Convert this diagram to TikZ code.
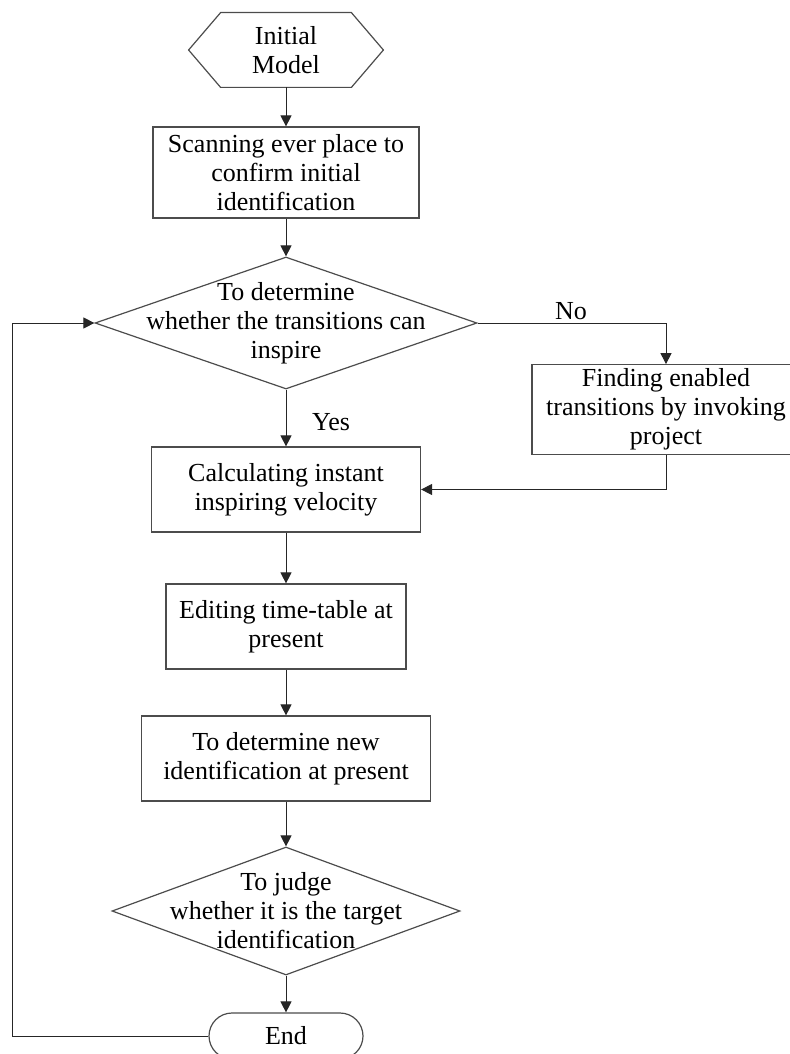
\documentclass[tikz,border=0pt]{standalone}
\usepackage{fontspec}
\setmainfont{Liberation Serif}
\usetikzlibrary{arrows.meta,positioning,shapes.geometric,calc}

\begin{document}
\begin{tikzpicture}[x=0.5pt, y=-0.5pt,
  box/.style={draw=black!70, line width=0.6pt, minimum height=42.5pt, align=center,
              font=\fontsize{13}{14.5}\selectfont, inner sep=2pt},
  dec/.style={draw=black!70, line width=0.6pt, diamond, inner sep=0pt, aspect=2.9},
  dtxt/.style={align=center, font=\fontsize{13}{14.5}\selectfont, inner sep=0pt},
  term/.style={draw=black!70, line width=0.6pt, rounded corners=11.5pt, minimum width=77pt,
               minimum height=23pt, font=\fontsize{13}{14.5}\selectfont},
  arr/.style={-{Triangle[length=5.5pt, width=5.5pt]}, line width=0.5pt, black!85},
  lbl/.style={font=\fontsize{13}{14.5}\selectfont, inner sep=0pt},
]
\useasboundingbox (0,0) rectangle (790,1054);

% --- start ---
\node[dtxt, minimum width=97pt, minimum height=37pt] (init) at (286,50) {Initial\\Model};
\draw[draw=black!70, line width=0.6pt] (init.west) -- ([xshift=16pt]init.north west)
  -- ([xshift=-16pt]init.north east) -- (init.east)
  -- ([xshift=-16pt]init.south east) -- ([xshift=16pt]init.south west) -- cycle;

% --- main column ---
\node[box, minimum width=133pt, minimum height=45.5pt] (scan) at (286,172.5)
  {Scanning ever place to\\confirm initial\\identification};
\node[dec, minimum width=191pt, minimum height=66pt] (fire) at (286,323) {};
\node[dtxt] (firetxt) at (fire) {To determine\\whether the transitions can\\inspire};
\node[box, minimum width=134.5pt] (calc) at (286,489.5) {Calculating instant\\inspiring velocity};
\node[box, minimum width=120pt] (edit) at (286,626.5) {Editing time-table at\\present};
\node[box, minimum width=144.5pt] (newid) at (286,758.5) {To determine new\\identification at present};
\node[dec, minimum width=174pt, minimum height=64pt] (goal) at (286,911) {};
\node[dtxt] (goaltxt) at (goal) {To judge\\whether it is the target\\identification};
\node[term] (stop) at (286,1036) {End};

% --- side branch ---
\node[box, minimum width=134pt] (find) at (666,409.5)
  {Finding enabled\\transitions by invoking\\project};

\coordinate (nocorner) at (666,323);
\coordinate (loopb) at (12,1036);
\coordinate (loopt) at (12,323);

\draw[arr] (init) -- (scan);
\draw[arr] (scan) -- (fire);
\draw[arr] (fire.east) -- (nocorner) -- (find.north);
\node[lbl] (no) at (571,311) {No};
\draw[arr] (fire.south) -- (calc.north);
\node[lbl] (yes) at (331,422) {Yes};
\draw[arr] (find.south) |- (calc.east);
\draw[arr] (calc) -- (edit);
\draw[arr] (edit) -- (newid);
\draw[arr] (newid) -- (goal);
\draw[arr] (goal.south) -- (stop.north);
\draw[arr] (stop.west) -- (loopb) -- (loopt) -- (fire.west);
\end{tikzpicture}
\end{document}
